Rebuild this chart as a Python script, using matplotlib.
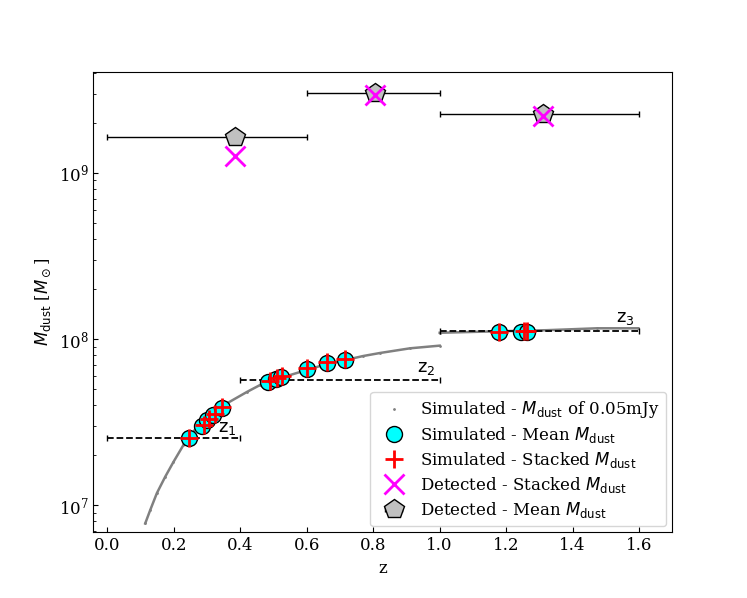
import numpy as np
import matplotlib
matplotlib.use('Agg')
import matplotlib.pyplot as plt

plt.rcParams['font.family'] = 'serif'
plt.rcParams['font.serif'] = ['DejaVu Serif']
plt.rcParams['mathtext.fontset'] = 'dejavusans'

# simulated M_dust curve for a 0.05 mJy source
z_sim_a = [0.114, 0.129, 0.149, 0.174, 0.199, 0.229, 0.270, 0.320, 0.360, 0.420,
           0.460, 0.550, 0.650, 0.770, 0.821, 0.911, 1.0]
m_sim_a = [7.76e6, 9.33e6, 1.18e7, 1.48e7, 1.82e7, 2.30e7, 2.96e7, 3.65e7, 4.10e7, 4.80e7,
           5.29e7, 6.07e7, 6.97e7, 7.90e7, 8.24e7, 8.79e7, 9.12e7]
z_sim_b = [1.0, 1.152, 1.323, 1.474, 1.597]
m_sim_b = [1.09e8, 1.11e8, 1.13e8, 1.16e8, 1.16e8]

# simulated mean / stacked values
z_mean = [0.247, 0.286, 0.301, 0.319, 0.346, 0.484, 0.508, 0.523, 0.602, 0.662, 0.716,
          1.179, 1.245, 1.263]
m_mean = [2.53e7, 2.99e7, 3.25e7, 3.49e7, 3.84e7, 5.51e7, 5.74e7, 5.90e7, 6.60e7, 7.17e7, 7.47e7,
          1.10e8, 1.10e8, 1.10e8]
z_stack = [0.247, 0.290, 0.305, 0.323, 0.346, 0.488, 0.512, 0.525, 0.602, 0.662, 0.716,
           1.179, 1.255, 1.263]
m_stack = [2.55e7, 3.02e7, 3.30e7, 3.55e7, 3.90e7, 5.60e7, 5.85e7, 6.00e7, 6.70e7, 7.30e7, 7.60e7,
           1.10e8, 1.11e8, 1.12e8]

# redshift bins
bin_lo = [0.0, 0.4, 1.0]
bin_hi = [0.4, 1.0, 1.6]
bin_m = [2.53e7, 5.66e7, 1.12e8]
bin_labels = [r'$\rm z_1$', r'$\rm z_2$', r'$\rm z_3$']

# detected sources
det_z = [0.385, 0.805, 1.31]
det_lo = [0.0, 0.6, 1.0]
det_hi = [0.6, 1.0, 1.6]
det_mean = [1.65e9, 3.03e9, 2.27e9]
det_stack = [1.27e9, 2.95e9, 2.20e9]

fig, ax = plt.subplots(figsize=(7.47, 5.98), dpi=100)

ax.plot(z_sim_a, m_sim_a, color='gray', lw=1.8, zorder=1)
ax.plot(z_sim_b, m_sim_b, color='gray', lw=1.8, zorder=1)
h_sim = ax.scatter(z_sim_a + z_sim_b, m_sim_a + m_sim_b, s=1, color='gray', zorder=1)

# dashed bin lines
zc = [(a + b) / 2 for a, b in zip(bin_lo, bin_hi)]
zw = [(b - a) / 2 for a, b in zip(bin_lo, bin_hi)]
eb = ax.errorbar(zc, bin_m, xerr=zw, fmt='none', ecolor='k', elinewidth=1.3, capsize=2, zorder=2)
eb[2][0].set_linestyle('--')
for x, y, t in zip([0.36, 0.96, 1.56], [2.9e7, 6.7e7, 1.34e8], bin_labels):
    ax.text(x, y, t, fontsize=13, ha='center', va='center')

h_mean, = ax.plot(z_mean, m_mean, 'o', ms=11.5, mfc='cyan', mec='k', mew=1, zorder=3)
h_stack, = ax.plot(z_stack, m_stack, '+', ms=13, color='red', mew=2, zorder=4)

dz_lo = [z - a for z, a in zip(det_z, det_lo)]
dz_hi = [b - z for z, b in zip(det_z, det_hi)]
h_det = ax.errorbar(det_z, det_mean, xerr=[dz_lo, dz_hi], fmt='p', ms=15, mfc='silver', mec='k',
                    ecolor='k', elinewidth=1, capsize=2, zorder=3)
h_dstack, = ax.plot(det_z, det_stack, 'x', ms=15, color='magenta', mew=2, zorder=4)

ax.set_yscale('log')
ax.set_xlim(-0.042, 1.70)
ax.set_ylim(6.87e6, 4.06e9)
ax.set_xticks([0.0, 0.2, 0.4, 0.6, 0.8, 1.0, 1.2, 1.4, 1.6])
ax.tick_params(which='both', direction='in', labelsize=12)
ax.set_xlabel('z', fontsize=12)
ax.set_ylabel(r'$M_{\rm dust}$ [$M_\odot$]', fontsize=12)

ax.legend([h_sim, h_mean, h_stack, h_dstack, h_det],
          [r'Simulated - $M_{\rm dust}$ of 0.05mJy',
           r'Simulated - Mean $M_{\rm dust}$',
           r'Simulated - Stacked $M_{\rm dust}$',
           r'Detected - Stacked $M_{\rm dust}$',
           r'Detected - Mean $M_{\rm dust}$'],
          loc='lower right', fontsize=12, labelspacing=0.3, borderaxespad=0.35,
          handletextpad=0.6)

fig.savefig('out.png', dpi=100)
